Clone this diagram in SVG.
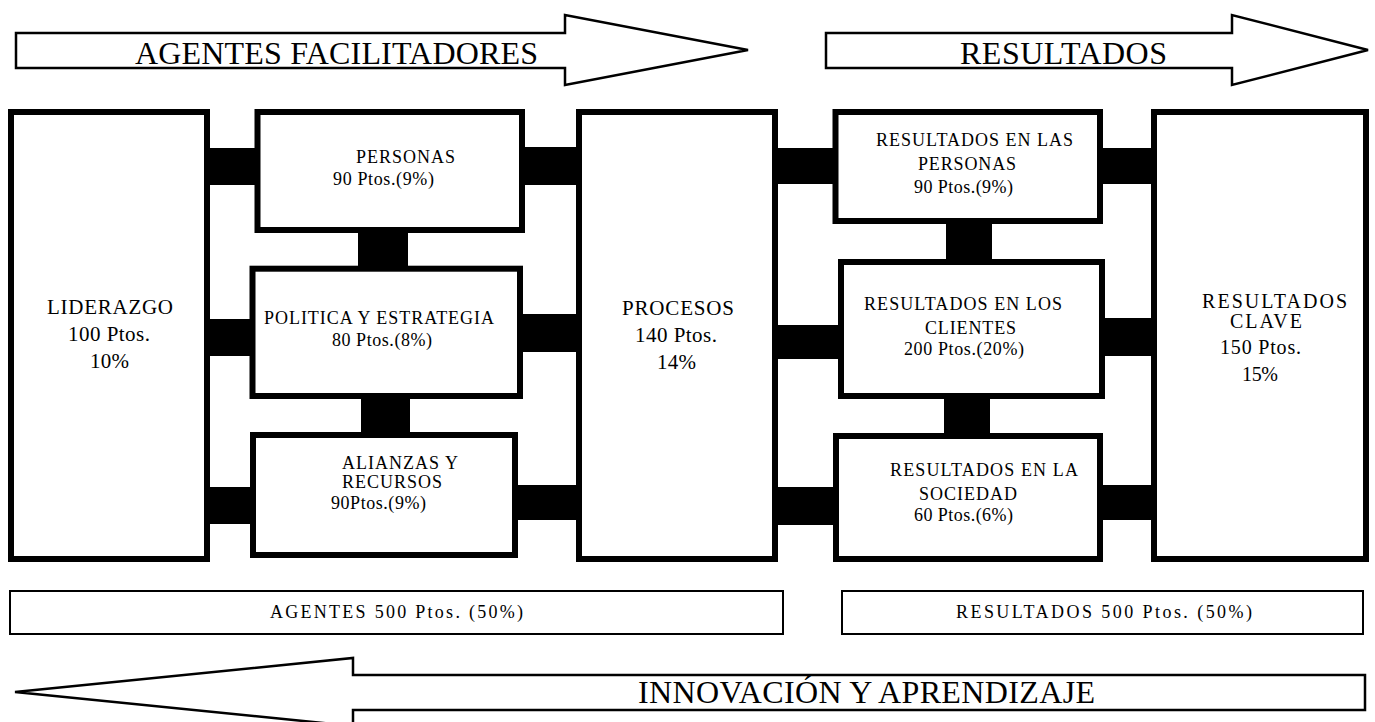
<svg xmlns="http://www.w3.org/2000/svg" width="1375" height="722" viewBox="0 0 1375 722">
<style>
.box{fill:#fff;stroke:#000;stroke-width:6}
.thin{fill:#fff;stroke:#000;stroke-width:2}
.arrow{fill:#fff;stroke:#000;stroke-width:2.5;stroke-linejoin:miter}
.bar{fill:#000}
text{font-family:"Liberation Serif","Times New Roman",serif;fill:#000}
.big{font-size:32px}
.mid{font-size:21px}
.sm{font-size:18px}
.cl{font-size:20px}
</style>
<rect width="1375" height="722" fill="#fff"/>
<g id="arrow-agentes">
<polygon class="arrow" points="16,33 565,33 565,15 748,50 565,85 565,68 16,68"/>
<text class="big" x="135" y="64" textLength="403">AGENTES FACILITADORES</text>
</g>
<g id="arrow-resultados">
<polygon class="arrow" points="826,33 1232,33 1232,15 1368,50 1232,85 1232,68 826,68"/>
<text class="big" x="960" y="64" textLength="207">RESULTADOS</text>
</g>
<g id="connectors">
<rect class="bar" x="207" y="148" width="50" height="37"/>
<rect class="bar" x="207" y="319" width="46" height="37"/>
<rect class="bar" x="207" y="487" width="46" height="37"/>
<rect class="bar" x="522" y="147" width="57" height="38"/>
<rect class="bar" x="520" y="314" width="59" height="38"/>
<rect class="bar" x="515" y="485" width="64" height="35"/>
<rect class="bar" x="358" y="230" width="50" height="39"/>
<rect class="bar" x="361" y="396" width="49" height="39"/>
<rect class="bar" x="775" y="148" width="64" height="36"/>
<rect class="bar" x="775" y="325" width="67" height="34"/>
<rect class="bar" x="775" y="487" width="62" height="38"/>
<rect class="bar" x="946" y="221" width="46" height="41"/>
<rect class="bar" x="944" y="396" width="46" height="40"/>
<rect class="bar" x="1100" y="148" width="54" height="36"/>
<rect class="bar" x="1102" y="318" width="52" height="38"/>
<rect class="bar" x="1100" y="485" width="54" height="35"/>
</g>
<g id="liderazgo">
<rect class="box" x="11" y="112" width="196" height="447"/>
<text class="mid" x="47" y="314" textLength="126">LIDERAZGO</text>
<text class="mid" x="68" y="341" textLength="82">100  Ptos.</text>
<text class="mid" x="90" y="368" textLength="39">10%</text>
</g>
<g id="personas">
<rect class="box" x="257.5" y="112" width="264.5" height="118"/>
<text class="sm" x="356" y="163" textLength="99">PERSONAS</text>
<text class="sm" x="333" y="185" textLength="101">90 Ptos.(9%)</text>
</g>
<g id="politica">
<rect class="box" x="252.5" y="268.7" width="267.5" height="127.3"/>
<text class="sm" x="264" y="324" textLength="230">POLITICA Y ESTRATEGIA</text>
<text class="sm" x="332" y="346" textLength="100">80 Ptos.(8%)</text>
</g>
<g id="alianzas">
<rect class="box" x="253" y="435" width="262" height="120"/>
<text class="sm" x="342" y="469" textLength="116">ALIANZAS Y</text>
<text class="sm" x="342" y="488" textLength="100">RECURSOS</text>
<text class="sm" x="331" y="509" textLength="95">90Ptos.(9%)</text>
</g>
<g id="procesos">
<rect class="box" x="579" y="112" width="196" height="447"/>
<text class="mid" x="622" y="315" textLength="112">PROCESOS</text>
<text class="mid" x="635" y="342" textLength="82">140  Ptos.</text>
<text class="mid" x="657" y="369" textLength="39">14%</text>
</g>
<g id="res-personas">
<rect class="box" x="835.5" y="112" width="264.5" height="109"/>
<text class="sm" x="876" y="146" textLength="197">RESULTADOS EN LAS</text>
<text class="sm" x="918" y="170" textLength="98">PERSONAS</text>
<text class="sm" x="914" y="193" textLength="99">90 Ptos.(9%)</text>
</g>
<g id="res-clientes">
<rect class="box" x="841" y="262" width="261" height="134"/>
<text class="sm" x="864" y="310" textLength="198">RESULTADOS EN LOS</text>
<text class="sm" x="925" y="334" textLength="91">CLIENTES</text>
<text class="sm" x="904" y="355" textLength="120">200 Ptos.(20%)</text>
</g>
<g id="res-sociedad">
<rect class="box" x="836" y="436" width="264" height="123"/>
<text class="sm" x="890" y="476" textLength="188">RESULTADOS EN LA</text>
<text class="sm" x="919" y="500" textLength="98">SOCIEDAD</text>
<text class="sm" x="914" y="521" textLength="99">60 Ptos.(6%)</text>
</g>
<g id="res-clave">
<rect class="box" x="1154" y="112" width="212" height="447"/>
<text class="cl" x="1202" y="308" textLength="145">RESULTADOS</text>
<text class="cl" x="1230" y="328" textLength="72">CLAVE</text>
<text class="cl" x="1220" y="354" textLength="81">150  Ptos.</text>
<text class="cl" x="1242" y="381" textLength="36">15%</text>
</g>
<g id="total-agentes">
<rect class="thin" x="10" y="591" width="773" height="43"/>
<text class="sm" x="270" y="618" textLength="253">AGENTES 500  Ptos. (50%)</text>
</g>
<g id="total-resultados">
<rect class="thin" x="842" y="591" width="521" height="43"/>
<text class="sm" x="956" y="618" textLength="296">RESULTADOS 500  Ptos. (50%)</text>
</g>
<g id="arrow-innovacion">
<polygon class="arrow" points="1365,675 353,675 353,658 15,692 353,726 353,710 1365,710"/>
<text class="big" x="638" y="703" textLength="457">INNOVACIÓN Y APRENDIZAJE</text>
</g>
</svg>
